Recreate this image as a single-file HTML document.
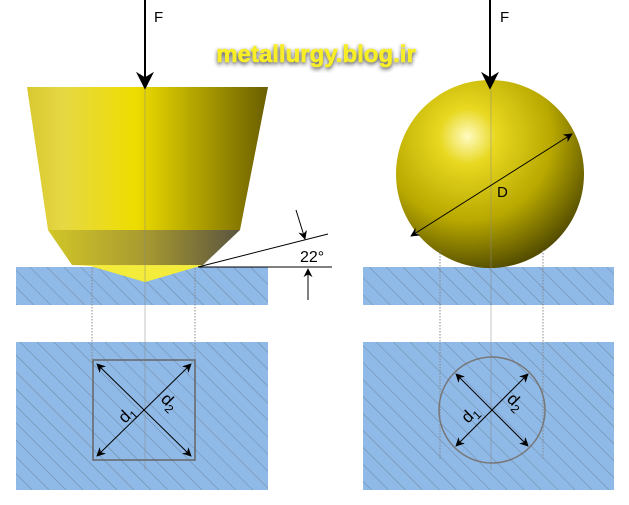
<!DOCTYPE html>
<html><head><meta charset="utf-8"><style>body{margin:0;background:#fff}</style></head><body>
<svg width="629" height="500" viewBox="0 0 629 500" xmlns="http://www.w3.org/2000/svg" font-family="Liberation Sans, DejaVu Sans, sans-serif">
<defs>
<pattern id="h" width="12" height="12" patternUnits="userSpaceOnUse" patternTransform="rotate(-45)">
<rect width="12" height="12" fill="#8fb9e6"/><line x1="0" y1="0" x2="0" y2="12" stroke="#6f86a0" stroke-width="1"/></pattern>
<linearGradient id="y" x1="0" x2="1"><stop offset="0" stop-color="#d8c830"/><stop offset="0.15" stop-color="#e6d844"/><stop offset="0.45" stop-color="#eedd00"/><stop offset="1" stop-color="#6a5e00"/></linearGradient>
<linearGradient id="y2" x1="0" x2="1"><stop offset="0" stop-color="#d2c628"/><stop offset="0.5" stop-color="#a89a30"/><stop offset="1" stop-color="#5a5440"/></linearGradient>
<radialGradient id="s" cx="0.38" cy="0.3" r="0.75"><stop offset="0" stop-color="#fffbc0"/><stop offset="0.2" stop-color="#e8d820"/><stop offset="0.6" stop-color="#b8a800"/><stop offset="1" stop-color="#4a4400"/></radialGradient>
<marker id="a" viewBox="0 0 10 10" refX="9" refY="5" markerWidth="9" markerHeight="9" orient="auto-start-reverse"><path d="M0,0 L10,5 L0,10 L3,5z" fill="#000"/></marker>
<filter id="sh"><feGaussianBlur stdDeviation="2"/></filter>
</defs>
<!-- left -->
<rect x="16" y="267" width="252" height="38" fill="url(#h)"/>
<rect x="16" y="342" width="252" height="148" fill="url(#h)"/>
<path d="M27,87 L268,87 L240,230 L48,230Z" fill="url(#y)"/>
<path d="M48,230 L240,230 L203,265 L72,265Z" fill="url(#y2)"/>
<path d="M72,265 L203,265 L145,282 L90,266Z" fill="#f0e840"/>
<path d="M92,266 L200,266 L145,282Z" fill="#f4ec3a" opacity="0.9"/>
<line x1="145" y1="0" x2="145" y2="88" stroke="#000" stroke-width="2" marker-end="url(#a)"/>
<text x="154" y="22" font-size="15">F</text>
<line x1="145" y1="90" x2="145" y2="470" stroke="#888" stroke-width="0.7" opacity="0.7"/>
<line x1="92" y1="268" x2="92" y2="362" stroke="#888" stroke-dasharray="1.5,1.5"/>
<line x1="195" y1="268" x2="195" y2="362" stroke="#888" stroke-dasharray="1.5,1.5"/>
<line x1="198" y1="267" x2="328" y2="234" stroke="#000"/>
<line x1="198" y1="267" x2="332" y2="267" stroke="#000"/>
<line x1="296" y1="210" x2="305" y2="239" stroke="#000" marker-end="url(#a)"/>
<line x1="308" y1="300" x2="308" y2="269" stroke="#000" marker-end="url(#a)"/>
<text x="300" y="262" font-size="16">22°</text>
<rect x="93" y="360" width="102" height="100" fill="none" stroke="#666" stroke-width="1.5"/>
<line x1="97" y1="364" x2="191" y2="456" stroke="#000" marker-start="url(#a)" marker-end="url(#a)"/>
<line x1="191" y1="364" x2="97" y2="456" stroke="#000" marker-start="url(#a)" marker-end="url(#a)"/>
<text font-size="17" transform="translate(125,424) rotate(-45)">d<tspan font-size="12" dy="4">1</tspan></text>
<text font-size="17" transform="translate(160,400) rotate(45)">d<tspan font-size="12" dy="4">2</tspan></text>
<!-- right -->
<rect x="363" y="267" width="251" height="38" fill="url(#h)"/>
<rect x="363" y="342" width="251" height="148" fill="url(#h)"/>
<circle cx="490" cy="174" r="94" fill="url(#s)"/>
<line x1="490" y1="0" x2="490" y2="88" stroke="#000" stroke-width="2" marker-end="url(#a)"/>
<text x="500" y="22" font-size="15">F</text>
<line x1="491" y1="90" x2="491" y2="470" stroke="#888" stroke-width="0.7" opacity="0.7"/>
<line x1="440" y1="250" x2="440" y2="460" stroke="#888" stroke-dasharray="1.5,1.5"/>
<line x1="543" y1="250" x2="543" y2="460" stroke="#888" stroke-dasharray="1.5,1.5"/>
<line x1="411" y1="236" x2="572" y2="134" stroke="#000" marker-start="url(#a)" marker-end="url(#a)"/>
<text x="497" y="197" font-size="15">D</text>
<circle cx="492" cy="410" r="53" fill="none" stroke="#777" stroke-width="1.5"/>
<line x1="456" y1="374" x2="528" y2="446" stroke="#000" marker-start="url(#a)" marker-end="url(#a)"/>
<line x1="528" y1="374" x2="456" y2="446" stroke="#000" marker-start="url(#a)" marker-end="url(#a)"/>
<text font-size="17" transform="translate(468,424) rotate(-45)">d<tspan font-size="12" dy="4">1</tspan></text>
<text font-size="17" transform="translate(506,400) rotate(45)">d<tspan font-size="12" dy="4">2</tspan></text>
<!-- title -->
<text x="316" y="64" font-size="24" font-weight="bold" text-anchor="middle" fill="#222" filter="url(#sh)">metallurgy.blog.ir</text>
<text x="316" y="62" font-size="24" font-weight="bold" text-anchor="middle" fill="#f8ee28" stroke="#f8ee28" stroke-width="0.6">metallurgy.blog.ir</text>
</svg>
</body></html>
